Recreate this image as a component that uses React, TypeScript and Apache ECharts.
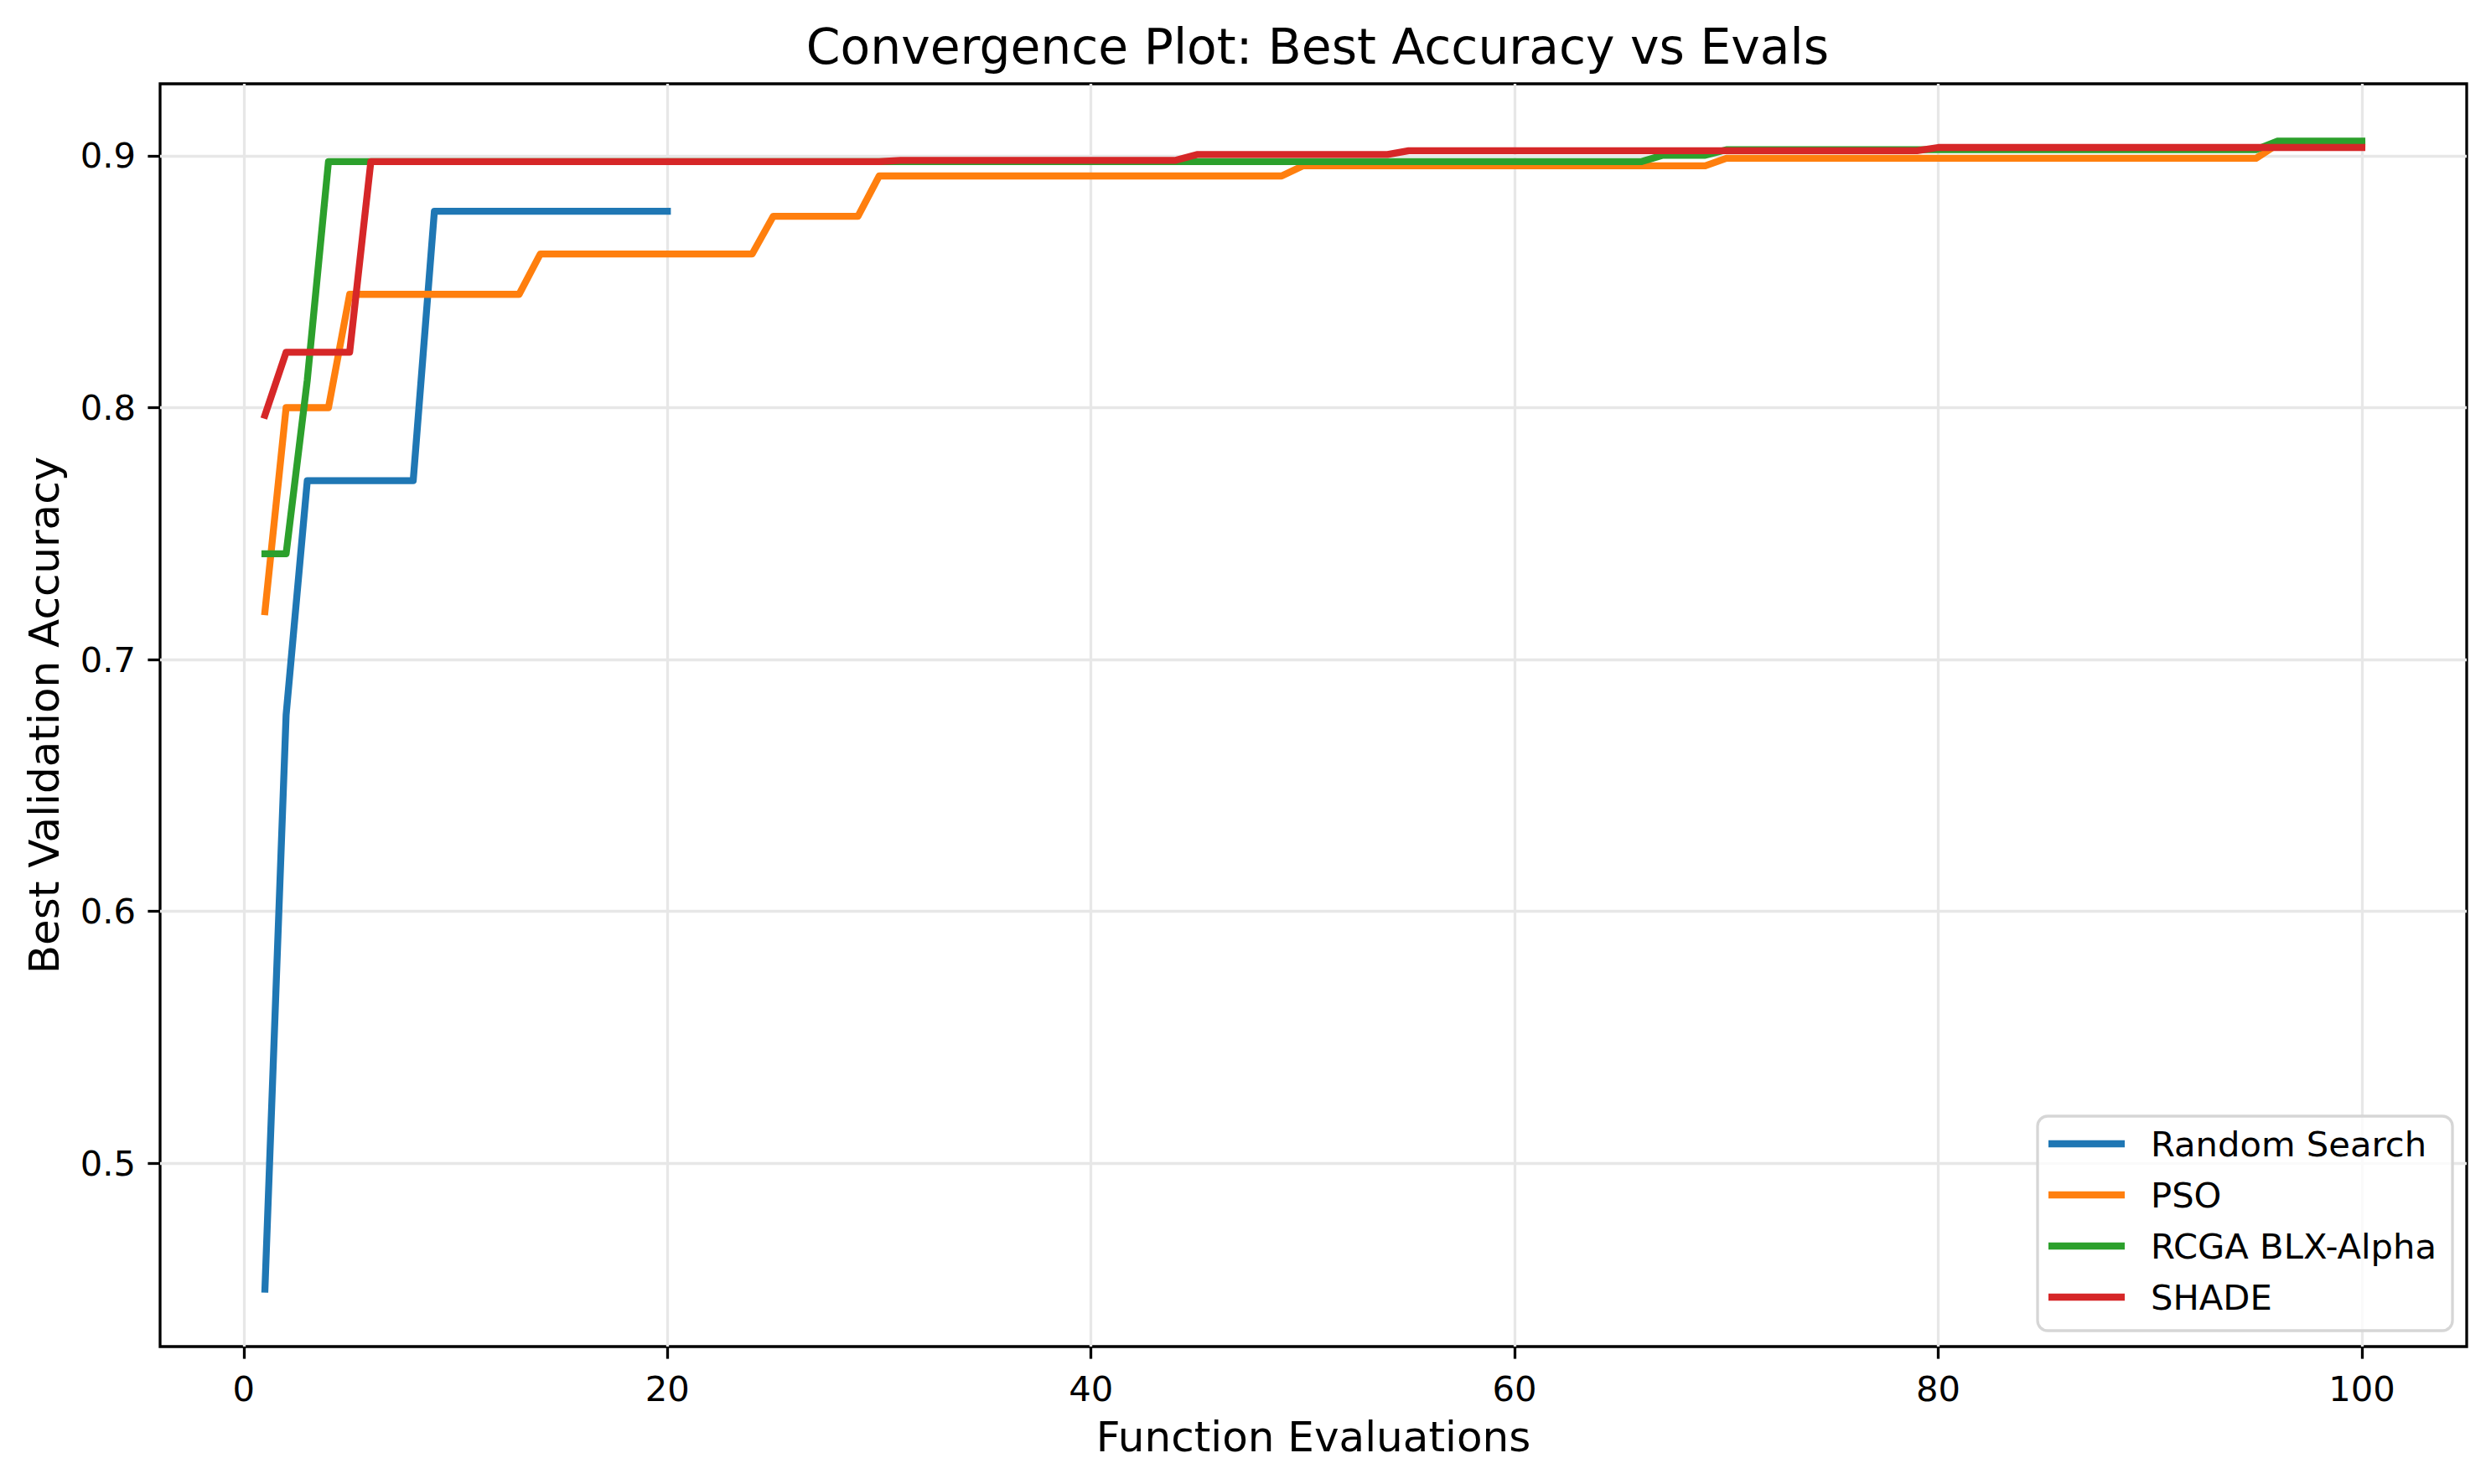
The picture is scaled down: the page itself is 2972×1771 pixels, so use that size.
import React, { useEffect, useRef } from 'react';
import * as echarts from 'echarts';

const seriesNames = ['Random Search', 'PSO', 'RCGA BLX-Alpha', 'SHADE'];
const colors = ['#1f77b4', '#ff7f0e', '#2ca02c', '#d62728'];

// best accuracy per evaluation (evaluation = index + 1)
const randomSearch = [
  0.45, 0.678, 0.771, 0.771, 0.771, 0.771, 0.771, 0.771, 0.878, 0.878,
  0.878, 0.878, 0.878, 0.878, 0.878, 0.878, 0.878, 0.878, 0.878, 0.878,
];

const pso = [
  0.719, 0.8, 0.8, 0.8, 0.845, 0.845, 0.845, 0.845, 0.845, 0.845,
  0.845, 0.845, 0.845, 0.861, 0.861, 0.861, 0.861, 0.861, 0.861, 0.861,
  0.861, 0.861, 0.861, 0.861, 0.876, 0.876, 0.876, 0.876, 0.876, 0.892,
  0.892, 0.892, 0.892, 0.892, 0.892, 0.892, 0.892, 0.892, 0.892, 0.892,
  0.892, 0.892, 0.892, 0.892, 0.892, 0.892, 0.892, 0.892, 0.892, 0.896,
  0.896, 0.896, 0.896, 0.896, 0.896, 0.896, 0.896, 0.896, 0.896, 0.896,
  0.896, 0.896, 0.896, 0.896, 0.896, 0.896, 0.896, 0.896, 0.896, 0.899,
  0.899, 0.899, 0.899, 0.899, 0.899, 0.899, 0.899, 0.899, 0.899, 0.899,
  0.899, 0.899, 0.899, 0.899, 0.899, 0.899, 0.899, 0.899, 0.899, 0.899,
  0.899, 0.899, 0.899, 0.899, 0.899, 0.9045, 0.9045, 0.9045, 0.9045, 0.9045,
];

const rcga = [
  0.742, 0.742, 0.811, 0.8977, 0.8977, 0.8977, 0.8977, 0.8977, 0.8977, 0.8977,
  0.8977, 0.8977, 0.8977, 0.8977, 0.8977, 0.8977, 0.8977, 0.8977, 0.8977, 0.8977,
  0.8977, 0.8977, 0.8977, 0.8977, 0.8977, 0.8977, 0.8977, 0.8977, 0.8977, 0.8977,
  0.8977, 0.8977, 0.8977, 0.8977, 0.8977, 0.8977, 0.8977, 0.8977, 0.8977, 0.8977,
  0.8977, 0.8977, 0.8977, 0.8977, 0.8977, 0.8977, 0.8977, 0.8977, 0.8977, 0.8977,
  0.8977, 0.8977, 0.8977, 0.8977, 0.8977, 0.8977, 0.8977, 0.8977, 0.8977, 0.8977,
  0.8977, 0.8977, 0.8977, 0.8977, 0.8977, 0.8977, 0.9002, 0.9002, 0.9002, 0.9024,
  0.9024, 0.9024, 0.9024, 0.9024, 0.9024, 0.9024, 0.9024, 0.9024, 0.9024, 0.9024,
  0.9024, 0.9024, 0.9024, 0.9024, 0.9024, 0.9024, 0.9024, 0.9024, 0.9024, 0.9024,
  0.9024, 0.9024, 0.9024, 0.9024, 0.9024, 0.9058, 0.9058, 0.9058, 0.9058, 0.9058,
];

const shade = [
  0.797, 0.822, 0.822, 0.822, 0.822, 0.8977, 0.8977, 0.8977, 0.8977, 0.8977,
  0.8977, 0.8977, 0.8977, 0.8977, 0.8977, 0.8977, 0.8977, 0.8977, 0.8977, 0.8977,
  0.8977, 0.8977, 0.8977, 0.8977, 0.8977, 0.8977, 0.8977, 0.8977, 0.8977, 0.8977,
  0.8982, 0.8982, 0.8982, 0.8982, 0.8982, 0.8982, 0.8982, 0.8982, 0.8982, 0.8982,
  0.8982, 0.8982, 0.8982, 0.8982, 0.9005, 0.9005, 0.9005, 0.9005, 0.9005, 0.9005,
  0.9005, 0.9005, 0.9005, 0.9005, 0.902, 0.902, 0.902, 0.902, 0.902, 0.902,
  0.902, 0.902, 0.902, 0.902, 0.902, 0.902, 0.902, 0.902, 0.902, 0.902,
  0.902, 0.902, 0.902, 0.902, 0.902, 0.902, 0.902, 0.902, 0.902, 0.9033,
  0.9033, 0.9033, 0.9033, 0.9033, 0.9033, 0.9033, 0.9033, 0.9033, 0.9033, 0.9033,
  0.9033, 0.9033, 0.9033, 0.9033, 0.9033, 0.9033, 0.9033, 0.9033, 0.9033, 0.9033,
];

const xTicks = [0, 20, 40, 60, 80, 100];
const yTicks = [0.5, 0.6, 0.7, 0.8, 0.9];

const FONT = 'DejaVu Sans';
const W = 2972;
const H = 1771;

const App: React.FC = () => {
  const chartRef = useRef<HTMLDivElement | null>(null);

  useEffect(() => {
    document.body.style.margin = '0';
    if (!chartRef.current) return;
    const chart = echarts.init(chartRef.current, undefined, { renderer: 'svg' });

    const allSeries = [randomSearch, pso, rcga, shade];
    const allY = allSeries.flat();
    const yLo = Math.min(...allY);
    const yHi = Math.max(...allY);
    const yPad = (yHi - yLo) * 0.05;
    const xLo = 1;
    const xHi = Math.max(...allSeries.map(s => s.length));
    const xPad = (xHi - xLo) * 0.05;

    const gridLine = { show: true, lineStyle: { color: '#e7e7e7', width: 3.3 } };
    const tick = (values: number[]) => ({
      show: true,
      length: 14.6,
      customValues: values,
      lineStyle: { color: '#000', width: 3.3 },
    });
    const label = (values: number[]) => ({
      customValues: values,
      fontSize: 41.7,
      fontFamily: FONT,
      color: '#000',
      margin: 29,
    });

    const option = {
      animation: false,
      title: {
        text: 'Convergence Plot: Best Accuracy vs Evals',
        left: 1567,
        top: 22,
        textAlign: 'center',
        textStyle: { fontSize: 58.3, fontWeight: 'normal', fontFamily: FONT, color: '#000' },
      },
      grid: {
        left: 191,
        right: 29,
        top: 100,
        bottom: 164,
        show: true,
        borderColor: '#000',
        borderWidth: 3.3,
        backgroundColor: 'transparent',
      },
      legend: {
        orient: 'vertical',
        left: 2431,
        top: 1332,
        padding: [12, 19, 19, 13],
        itemGap: 19,
        itemWidth: 91,
        itemHeight: 8.3,
        icon: 'rect',
        backgroundColor: 'rgba(255,255,255,0.8)',
        borderColor: '#d6d6d6',
        borderWidth: 3.3,
        borderRadius: 12,
        textStyle: { fontSize: 41.7, fontFamily: FONT, color: '#000', padding: [0, 0, 0, 26] },
        data: seriesNames,
      },
      xAxis: {
        type: 'value',
        min: xLo - xPad,
        max: xHi + xPad,
        name: 'Function Evaluations',
        nameLocation: 'middle',
        nameGap: 83,
        nameTextStyle: { fontSize: 50, fontFamily: FONT, color: '#000' },
        axisLine: { show: false, onZero: false },
        axisTick: tick(xTicks),
        axisLabel: label(xTicks),
        splitLine: gridLine,
      },
      yAxis: {
        type: 'value',
        min: yLo - yPad,
        max: yHi + yPad,
        name: 'Best Validation Accuracy',
        nameLocation: 'middle',
        nameRotate: 90,
        nameGap: 113,
        nameTextStyle: { fontSize: 50, fontFamily: FONT, color: '#000' },
        axisLine: { show: false, onZero: false },
        axisTick: tick(yTicks),
        axisLabel: label(yTicks),
        splitLine: gridLine,
      },
      series: allSeries.map((values, k) => ({
        name: seriesNames[k],
        type: 'line',
        data: values.map((v, i) => [i + 1, v]),
        showSymbol: false,
        symbol: 'none',
        color: colors[k],
        lineStyle: { color: colors[k], width: 8.3, cap: 'square', join: 'round' },
      })),
    };

    chart.setOption(option);
    return () => {
      chart.dispose();
    };
  }, []);

  return <div ref={chartRef} style={{ width: W, height: H }} />;
};

export default App;
